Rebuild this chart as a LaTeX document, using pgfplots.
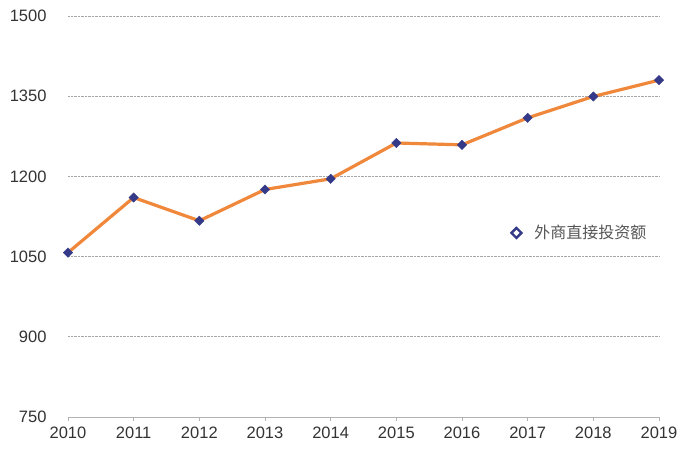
\documentclass[border=0pt]{standalone}
\usepackage{fontspec}
\setmainfont{Liberation Sans}
\newfontfamily\cjk{Noto Sans CJK SC}
\usepackage{pgfplots}
\pgfplotsset{compat=1.18}
\definecolor{navy}{RGB}{52,58,135}
\definecolor{lorange}{RGB}{240,136,60}
\definecolor{tickc}{RGB}{51,51,51}
\definecolor{legc}{RGB}{85,85,85}
\begin{document}
\begin{tikzpicture}
\useasboundingbox (-68pt,-37pt) rectangle (628pt,417pt);
\begin{axis}[
  at={(0pt,0pt)}, anchor=south west,
  width=591pt, height=401pt, scale only axis,
  xmin=2010, xmax=2019, ymin=750, ymax=1500,
  xtick={2010,2011,...,2019},
  ytick={750,900,1050,1200,1350,1500},
  /pgf/number format/assume math mode=true,
  /pgf/number format/1000 sep={},
  ticklabel style={font=\fontsize{16.5}{18}\selectfont, text=tickc},
  axis x line*=bottom,
  axis y line*=left,
  x axis line style={draw=black!30, line width=0.8pt, -},
  y axis line style={draw=none},
  xtick style={draw=black!30, line width=0.8pt},
  ytick style={draw=none},
  tick align=outside,
  major tick length=4pt,
  ymajorgrids=true,
  grid style={densely dotted, black!35, line width=0.8pt},
  yticklabel style={anchor=east, xshift=-14pt},
  xticklabel style={yshift=-2pt},
  legend style={at={(0.745,0.459)}, anchor=west, draw=none, fill=none,
    font=\cjk\fontsize{16}{18}\selectfont, text=legc},
  legend image code/.code={\draw[navy, line width=2.4pt, mark=square, mark size=3.5pt, mark options={solid, rotate=45}] plot coordinates {(0.2cm,0cm)};},
]
\addplot[lorange, line width=3.2pt, mark=square*, mark size=3.3pt,
  mark options={fill=navy, draw=navy, line width=0.4pt, rotate=45}]
  coordinates {
  (2010,1057.5) (2011,1160.5) (2012,1117) (2013,1175.5) (2014,1195.5)
  (2015,1262.5) (2016,1259) (2017,1309.5) (2018,1349.5) (2019,1380)
  };
\addlegendentry{\hspace{11pt}外商直接投资额}
\end{axis}
\end{tikzpicture}
\end{document}
